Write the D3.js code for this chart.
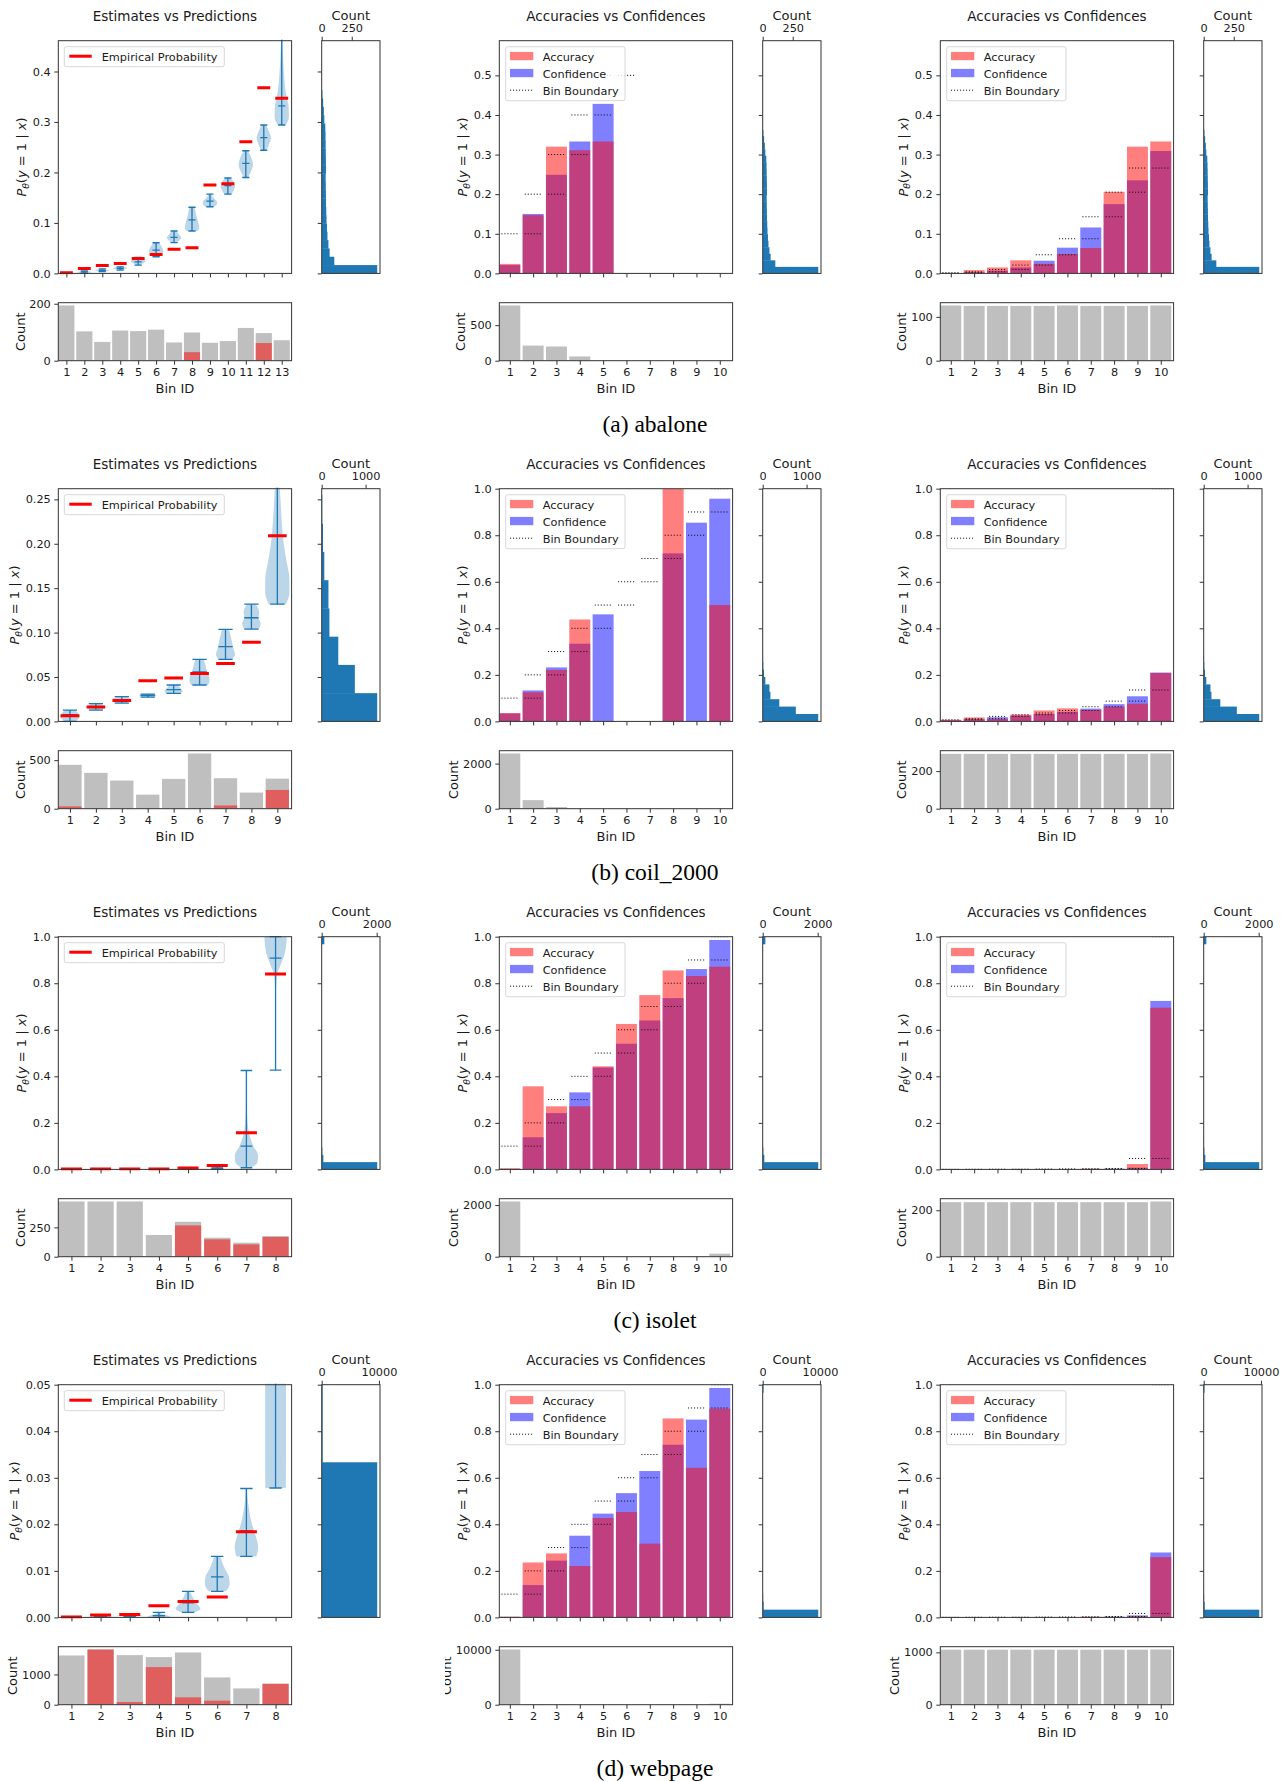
<!DOCTYPE html>
<html>
<head>
<meta charset="utf-8">
<script src="https://cdn.jsdelivr.net/npm/d3@7"></script>
<style>
  html, body { margin: 0; padding: 0; background: #ffffff; }
  svg { display: block; }
</style>
</head>
<body>
<svg id="fig" width="1284" height="1782"></svg>
<script>
// ---------------------------------------------------------------
// Data
// ---------------------------------------------------------------
const captions = ["(a) abalone", "(b) coil_2000", "(c) isolet", "(d) webpage"];
const uniformEdges = [0, 0.1, 0.2, 0.3, 0.4, 0.5, 0.6, 0.7, 0.8, 0.9, 1.0];
const calibrationBins = [1, 2, 3, 4, 5, 6, 7, 8, 9, 10];

// ---- abalone ----
const abaloneEmpirical = [0.0013, 0.0099, 0.0158, 0.0198, 0.0297, 0.0376, 0.048, 0.0508, 0.175, 0.1776, 0.261, 0.368, 0.347];
const abaloneViolinMin = [0, 0.0005, 0.0035, 0.0066, 0.0165, 0.033, 0.061, 0.084, 0.132, 0.157, 0.190, 0.244, 0.294];
const abaloneViolinMax = [0.001, 0.005, 0.009, 0.013, 0.0317, 0.0607, 0.084, 0.131, 0.157, 0.189, 0.243, 0.294, 0.55];
const abaloneViolinMedian = [0.0005, 0.003, 0.006, 0.010, 0.023, 0.046, 0.0713, 0.106, 0.143, 0.174, 0.218, 0.269, 0.332];
const abaloneViolinDensity = [
  [[0, 0.3], [0.0005, 1], [0.001, 0.3]],
  [[0.0005, 0.3], [0.002, 0.8], [0.003, 1], [0.004, 0.7], [0.005, 0.3]],
  [[0.0035, 0.3], [0.005, 0.8], [0.006, 1], [0.0075, 0.6], [0.009, 0.3]],
  [[0.0066, 0.4], [0.009, 0.8], [0.010, 1], [0.0115, 0.8], [0.013, 0.4]],
  [[0.0165, 0.3], [0.021, 0.8], [0.024, 1], [0.028, 0.7], [0.0317, 0.4]],
  [[0.033, 0.5], [0.039, 0.85], [0.045, 1], [0.052, 0.8], [0.0607, 0.4]],
  [[0.061, 0.4], [0.066, 0.8], [0.071, 1], [0.077, 0.7], [0.084, 0.35]],
  [[0.084, 0.8], [0.092, 1], [0.102, 0.85], [0.112, 0.65], [0.122, 0.5], [0.131, 0.35]],
  [[0.132, 0.6], [0.137, 0.95], [0.142, 1], [0.148, 0.6], [0.153, 0.35], [0.157, 0.25]],
  [[0.157, 0.5], [0.165, 0.85], [0.173, 1], [0.18, 0.85], [0.189, 0.4]],
  [[0.190, 0.3], [0.203, 0.75], [0.215, 1], [0.228, 0.8], [0.243, 0.3]],
  [[0.244, 0.35], [0.256, 0.75], [0.268, 1], [0.28, 0.75], [0.294, 0.3]],
  [[0.294, 0.55], [0.31, 1], [0.33, 0.95], [0.36, 0.55], [0.40, 0.3], [0.44, 0.15], [0.5, 0.06], [0.55, 0.02]]
];
const abaloneBinCounts = [194, 103, 66, 106, 104, 109, 64, 99, 63, 69, 115, 97, 72];
const abalonePositiveCounts = [0, 0, 0, 0, 0, 0, 0, 30, 0, 0, 0, 62, 0];
const abaloneEstimateMax = 0.461;
const abaloneEstimateTicks = [0, 0.1, 0.2, 0.3, 0.4];
const abaloneEstimateFormat = ".1f";
const abaloneCalibrationMax = 0.5875;
const abaloneCalibrationTicks = [0, 0.1, 0.2, 0.3, 0.4, 0.5];
const abaloneUniformAccuracy = [0.024, 0.147, 0.320, 0.311, 0.333, 0, 0, 0, 0, 0];
const abaloneUniformConfidence = [0.021, 0.150, 0.249, 0.333, 0.428, 0, 0, 0, 0, 0];
const abaloneUniformCounts = [777, 213, 200, 60, 3, 0, 0, 0, 0, 0];
const abaloneQuantileEdges = [0, 0.0017, 0.004, 0.010, 0.021, 0.047, 0.0875, 0.143, 0.205, 0.266, 1.0];
const abaloneQuantileAccuracy = [0, 0.0084, 0.015, 0.033, 0.024, 0.049, 0.064, 0.206, 0.320, 0.333];
const abaloneQuantileConfidence = [0.001, 0.003, 0.007, 0.015, 0.032, 0.065, 0.116, 0.175, 0.235, 0.309];
const abaloneQuantileCounts = [126, 125, 125, 125, 125, 126, 125, 125, 125, 126];
const abaloneHistBinWidth = 0.0165;
const abaloneHistCounts = [462, 105, 66, 56, 48, 44, 40, 38, 36, 35, 34, 33, 36, 35, 34, 33, 32, 30, 22, 18, 12, 6];
const abaloneHistTicks = [0, 250];
const abaloneCountTicks = [[0, 200], [0, 500], [0, 100]];

// ---- coil_2000 ----
const coilEmpirical = [0.0064, 0.0161, 0.0236, 0.0458, 0.0488, 0.054, 0.0653, 0.089, 0.209];
const coilViolinMin = [0, 0.0128, 0.0206, 0.0274, 0.0315, 0.041, 0.0698, 0.104, 0.132];
const coilViolinMax = [0.0128, 0.020, 0.0278, 0.0308, 0.041, 0.0698, 0.1036, 0.132, 0.35];
const coilViolinMedian = [0.0075, 0.0165, 0.024, 0.0293, 0.0357, 0.0556, 0.0841, 0.1167, 0.209];
const coilViolinDensity = [
  [[0, 0.3], [0.003, 0.6], [0.006, 0.7], [0.009, 0.6], [0.0128, 0.3]],
  [[0.0128, 0.35], [0.015, 0.6], [0.0165, 0.63], [0.018, 0.55], [0.020, 0.3]],
  [[0.0206, 0.35], [0.023, 0.6], [0.025, 0.63], [0.0265, 0.5], [0.0278, 0.3]],
  [[0.0274, 0.4], [0.029, 0.6], [0.0308, 0.4]],
  [[0.0315, 0.5], [0.034, 0.64], [0.037, 0.5], [0.041, 0.3]],
  [[0.041, 0.6], [0.046, 0.7], [0.052, 0.65], [0.058, 0.5], [0.064, 0.4], [0.0698, 0.3]],
  [[0.0698, 0.45], [0.075, 0.67], [0.082, 0.55], [0.09, 0.45], [0.097, 0.35], [0.1036, 0.25]],
  [[0.104, 0.5], [0.11, 0.65], [0.117, 0.5], [0.123, 0.55], [0.128, 0.45], [0.132, 0.3]],
  [[0.132, 0.6], [0.145, 0.85], [0.16, 0.85], [0.18, 0.65], [0.2, 0.45], [0.22, 0.33], [0.25, 0.22], [0.28, 0.12], [0.32, 0.05], [0.35, 0.02]]
];
const coilBinCounts = [452, 369, 290, 145, 307, 569, 314, 166, 310];
const coilPositiveCounts = [24, 0, 0, 0, 0, 0, 34, 0, 193];
const coilEstimateMax = 0.262;
const coilEstimateTicks = [0, 0.05, 0.10, 0.15, 0.20, 0.25];
const coilEstimateFormat = ".2f";
const coilCalibrationMax = 1.0;
const coilCalibrationTicks = [0, 0.2, 0.4, 0.6, 0.8, 1.0];
const coilUniformAccuracy = [0.036, 0.125, 0.221, 0.438, 0, 0, 0, 1.0, 0, 0.5];
const coilUniformConfidence = [0.034, 0.133, 0.232, 0.334, 0.46, 0, 0, 0.722, 0.854, 0.957];
const coilUniformCounts = [2450, 380, 75, 10, 3, 0, 0, 1, 1, 2];
const coilQuantileEdges = [0, 0.007, 0.0115, 0.0215, 0.0287, 0.036, 0.047, 0.063, 0.087, 0.135, 1.0];
const coilQuantileAccuracy = [0.007, 0.017, 0.010, 0.029, 0.047, 0.056, 0.049, 0.063, 0.076, 0.208];
const coilQuantileConfidence = [0.005, 0.0095, 0.018, 0.025, 0.032, 0.041, 0.055, 0.074, 0.108, 0.21];
const coilQuantileCounts = [292, 292, 292, 292, 292, 292, 292, 292, 292, 294];
const coilHistBinWidth = 0.0318;
const coilHistCounts = [1265, 755, 378, 176, 154, 60, 30, 14, 8, 5];
const coilHistTicks = [0, 1000];
const coilCountTicks = [[0, 500], [0, 2000], [0, 200]];

// ---- isolet ----
const isoletEmpirical = [0.002, 0.002, 0.002, 0.002, 0.006, 0.017, 0.158, 0.84];
const isoletViolinMin = [0, 0, 0, 0, 0, 0.001, 0.007, 0.427];
const isoletViolinMax = [0.0005, 0.0008, 0.001, 0.0015, 0.003, 0.011, 0.425, 1.0];
const isoletViolinMedian = [0.0002, 0.0004, 0.0005, 0.0008, 0.0015, 0.005, 0.1, 0.908];
const isoletViolinDensity = [
  [[0, 0.5], [0.00025, 1], [0.0005, 0.5]],
  [[0, 0.5], [0.0004, 1], [0.0008, 0.5]],
  [[0, 0.5], [0.0005, 1], [0.001, 0.5]],
  [[0, 0.5], [0.0008, 1], [0.0015, 0.5]],
  [[0, 0.5], [0.0015, 1], [0.003, 0.5]],
  [[0.001, 0.4], [0.004, 0.6], [0.008, 0.4], [0.011, 0.2]],
  [[0.007, 0.35], [0.03, 0.95], [0.06, 1], [0.1, 0.6], [0.15, 0.25], [0.2, 0.1], [0.3, 0.03], [0.425, 0.01]],
  [[0.427, 0.01], [0.6, 0.01], [0.75, 0.03], [0.83, 0.1], [0.88, 0.45], [0.93, 0.8], [0.97, 0.92], [1.0, 0.95]]
];
const isoletBinCounts = [471, 471, 471, 185, 298, 162, 119, 176];
const isoletPositiveCounts = [0, 0, 0, 0, 267, 148, 105, 168];
const isoletEstimateMax = 1.0;
const isoletEstimateTicks = [0, 0.2, 0.4, 0.6, 0.8, 1.0];
const isoletEstimateFormat = ".1f";
const isoletCalibrationMax = 1.0;
const isoletCalibrationTicks = [0, 0.2, 0.4, 0.6, 0.8, 1.0];
const isoletUniformAccuracy = [0.005, 0.357, 0.271, 0.271, 0.443, 0.625, 0.749, 0.855, 0.831, 0.871];
const isoletUniformConfidence = [0.001, 0.138, 0.242, 0.331, 0.438, 0.540, 0.640, 0.736, 0.861, 0.986];
const isoletUniformCounts = [2140, 15, 12, 10, 8, 10, 12, 10, 20, 116];
const isoletQuantileEdges = [0, 0.0001, 0.0002, 0.0003, 0.0005, 0.0008, 0.0012, 0.002, 0.004, 0.047, 1.0];
const isoletQuantileAccuracy = [0, 0, 0, 0, 0, 0, 0.003, 0, 0.023, 0.695];
const isoletQuantileConfidence = [0.00005, 0.00015, 0.00025, 0.0004, 0.0006, 0.001, 0.0016, 0.003, 0.007, 0.724];
const isoletQuantileCounts = [235, 235, 235, 235, 235, 235, 235, 235, 235, 238];
const isoletHistBinWidth = 0.03125;
const isoletHistCounts = [2020, 60, 25, 10, 8, 5, 5, 4, 4, 4, 3, 3, 3, 3, 3, 3, 3, 3, 3, 3, 3, 3, 3, 3, 4, 4, 5, 5, 6, 8, 12, 97];
const isoletHistTicks = [0, 2000];
const isoletCountTicks = [[0, 250], [0, 2000], [0, 200]];

// ---- webpage ----
const webpageEmpirical = [0.0001, 0.0005, 0.0006, 0.0025, 0.0034, 0.0044, 0.0184, 0.3];
const webpageViolinMin = [0, 0.0001, 0.0002, 0, 0.0011, 0.0056, 0.0131, 0.0278];
const webpageViolinMax = [0.0001, 0.0003, 0.0005, 0.0011, 0.0056, 0.0131, 0.0277, 1.0];
const webpageViolinMedian = [0.00005, 0.0002, 0.00035, 0.0004, 0.0031, 0.0087, 0.0186, 0.3];
const webpageViolinDensity = [
  [[0, 0.5], [0.00005, 1], [0.0001, 0.5]],
  [[0.0001, 0.5], [0.0002, 1], [0.0003, 0.5]],
  [[0.0002, 0.5], [0.00035, 1], [0.0005, 0.5]],
  [[0, 1], [0.0003, 0.8], [0.0006, 0.4], [0.0009, 0.15], [0.0011, 0.05]],
  [[0.0011, 0.5], [0.0018, 1], [0.0025, 0.85], [0.0032, 0.6], [0.0042, 0.4], [0.005, 0.25], [0.0056, 0.15]],
  [[0.0056, 0.7], [0.0072, 1], [0.0087, 0.95], [0.010, 0.7], [0.0115, 0.45], [0.0131, 0.25]],
  [[0.0131, 0.8], [0.015, 0.95], [0.0175, 0.75], [0.020, 0.45], [0.0225, 0.25], [0.025, 0.12], [0.0277, 0.05]],
  [[0.0278, 0.83], [0.035, 0.84], [0.045, 0.84], [0.05, 0.84], [0.1, 0.6], [0.3, 0.3], [0.6, 0.2], [1.0, 0.1]]
];
const webpageBinCounts = [1626, 1824, 1637, 1571, 1725, 901, 538, 692];
const webpagePositiveCounts = [0, 1824, 88, 1242, 242, 132, 0, 692];
const webpageEstimateMax = 0.05;
const webpageEstimateTicks = [0, 0.01, 0.02, 0.03, 0.04, 0.05];
const webpageEstimateFormat = ".2f";
const webpageCalibrationMax = 1.0;
const webpageCalibrationTicks = [0, 0.2, 0.4, 0.6, 0.8, 1.0];
const webpageUniformAccuracy = [0.003, 0.236, 0.275, 0.221, 0.427, 0.453, 0.317, 0.855, 0.643, 0.897];
const webpageUniformConfidence = [0.002, 0.139, 0.244, 0.351, 0.446, 0.534, 0.629, 0.742, 0.85, 0.986];
const webpageUniformCounts = [10050, 90, 45, 30, 25, 22, 20, 25, 30, 177];
const webpageQuantileEdges = [0, 0.0001, 0.0002, 0.0003, 0.0004, 0.0006, 0.001, 0.002, 0.004, 0.017, 1.0];
const webpageQuantileAccuracy = [0, 0, 0, 0, 0, 0.0005, 0.003, 0.002, 0.004, 0.259];
const webpageQuantileConfidence = [0.00005, 0.00015, 0.00025, 0.00035, 0.0005, 0.0008, 0.0015, 0.003, 0.0086, 0.279];
const webpageQuantileCounts = [1051, 1051, 1051, 1051, 1051, 1051, 1051, 1051, 1051, 1055];
const webpageHistBinWidth = 1 / 30;
const webpageHistCounts = [9700, 180, 80, 40, 30, 25, 20, 15, 10, 12, 12, 10, 12, 10, 10, 10, 10, 8, 8, 8, 8, 8, 8, 8, 8, 8, 10, 15, 40, 150];
const webpageHistTicks = [0, 10000];
const webpageCountTicks = [[0, 1000], [0, 10000], [0, 1000]];

// Table assembled from the arrays above
const datasets = [
  { empirical: abaloneEmpirical, vMin: abaloneViolinMin, vMax: abaloneViolinMax, vMed: abaloneViolinMedian, density: abaloneViolinDensity,
    binCounts: abaloneBinCounts, positives: abalonePositiveCounts, estMax: abaloneEstimateMax, estTicks: abaloneEstimateTicks, estFmt: abaloneEstimateFormat,
    calMax: abaloneCalibrationMax, calTicks: abaloneCalibrationTicks,
    uAcc: abaloneUniformAccuracy, uConf: abaloneUniformConfidence, uCounts: abaloneUniformCounts,
    qEdges: abaloneQuantileEdges, qAcc: abaloneQuantileAccuracy, qConf: abaloneQuantileConfidence, qCounts: abaloneQuantileCounts,
    histW: abaloneHistBinWidth, hist: abaloneHistCounts, histTicks: abaloneHistTicks, countTicks: abaloneCountTicks },
  { empirical: coilEmpirical, vMin: coilViolinMin, vMax: coilViolinMax, vMed: coilViolinMedian, density: coilViolinDensity,
    binCounts: coilBinCounts, positives: coilPositiveCounts, estMax: coilEstimateMax, estTicks: coilEstimateTicks, estFmt: coilEstimateFormat,
    calMax: coilCalibrationMax, calTicks: coilCalibrationTicks,
    uAcc: coilUniformAccuracy, uConf: coilUniformConfidence, uCounts: coilUniformCounts,
    qEdges: coilQuantileEdges, qAcc: coilQuantileAccuracy, qConf: coilQuantileConfidence, qCounts: coilQuantileCounts,
    histW: coilHistBinWidth, hist: coilHistCounts, histTicks: coilHistTicks, countTicks: coilCountTicks },
  { empirical: isoletEmpirical, vMin: isoletViolinMin, vMax: isoletViolinMax, vMed: isoletViolinMedian, density: isoletViolinDensity,
    binCounts: isoletBinCounts, positives: isoletPositiveCounts, estMax: isoletEstimateMax, estTicks: isoletEstimateTicks, estFmt: isoletEstimateFormat,
    calMax: isoletCalibrationMax, calTicks: isoletCalibrationTicks,
    uAcc: isoletUniformAccuracy, uConf: isoletUniformConfidence, uCounts: isoletUniformCounts,
    qEdges: isoletQuantileEdges, qAcc: isoletQuantileAccuracy, qConf: isoletQuantileConfidence, qCounts: isoletQuantileCounts,
    histW: isoletHistBinWidth, hist: isoletHistCounts, histTicks: isoletHistTicks, countTicks: isoletCountTicks },
  { empirical: webpageEmpirical, vMin: webpageViolinMin, vMax: webpageViolinMax, vMed: webpageViolinMedian, density: webpageViolinDensity,
    binCounts: webpageBinCounts, positives: webpagePositiveCounts, estMax: webpageEstimateMax, estTicks: webpageEstimateTicks, estFmt: webpageEstimateFormat,
    calMax: webpageCalibrationMax, calTicks: webpageCalibrationTicks,
    uAcc: webpageUniformAccuracy, uConf: webpageUniformConfidence, uCounts: webpageUniformCounts,
    qEdges: webpageQuantileEdges, qAcc: webpageQuantileAccuracy, qConf: webpageQuantileConfidence, qCounts: webpageQuantileCounts,
    histW: webpageHistBinWidth, hist: webpageHistCounts, histTicks: webpageHistTicks, countTicks: webpageCountTicks }
];

// ---------------------------------------------------------------
// Layout and style
// ---------------------------------------------------------------
const FONT = "'DejaVu Sans', 'Noto Sans', sans-serif";
const TEXT = "#1a1a1a";
const SPINE = "#333333";
const TICK_FS = 11.3, LABEL_FS = 13, TITLE_FS = 13.5, LEGEND_FS = 11.3;
const ROW_Y = [0, 448, 896, 1344];
const COL_X = [58.3, 499.3, 940.3];
const MAIN_DY = 40.7, MAIN_W = 233.3, MAIN_H = 232.7;
const SIDE_DX = 263.4, SIDE_W = 58.3;
const CNT_DY = 302.7, CNT_H = 58;
const VIOLIN_W = [0.8, 1.1, 0.8, 0.85];
const P_LABEL_X = [[26, 467.4, 907.8], [19.3, 467.4, 907.8], [26, 467.4, 907.8], [19.3, 467.4, 907.8]];
const COUNT_LABEL_X = [[24.75, 465.25, 906], [24.75, 458, 906], [24.75, 458, 906], [17, 451.4, 898.5]];

const svg = d3.select("#fig");
const defs = svg.append("defs");
let clipSeq = 0;
function clipRect(x, y, w, h) {
  const id = "clip" + (clipSeq++);
  defs.append("clipPath").attr("id", id).append("rect")
    .attr("x", x).attr("y", y).attr("width", w).attr("height", h);
  return `url(#${id})`;
}

function styleAxis(a, keepText) {
  a.select(".domain").remove();
  a.attr("font-family", FONT).attr("font-size", TICK_FS);
  a.selectAll(".tick line").attr("stroke", SPINE).attr("stroke-width", 1);
  if (keepText) a.selectAll(".tick text").attr("fill", TEXT);
  else a.selectAll(".tick text").remove();
}

function frame(g, x, y, w, h) {
  g.append("rect").attr("x", x).attr("y", y).attr("width", w).attr("height", h)
    .attr("fill", "none").attr("stroke", SPINE).attr("stroke-width", 1);
}

function text(g, x, y, str, size, anchor) {
  return g.append("text").attr("x", x).attr("y", y).attr("font-family", FONT)
    .attr("font-size", size).attr("fill", TEXT).attr("text-anchor", anchor || "middle").text(str);
}

function probLabel(g, bx, cy) {
  const t = g.append("text").attr("transform", `translate(${bx},${cy}) rotate(-90)`)
    .attr("text-anchor", "middle").attr("font-family", FONT).attr("font-size", LABEL_FS).attr("fill", TEXT);
  t.append("tspan").attr("font-style", "italic").text("P");
  t.append("tspan").attr("font-style", "italic").attr("font-size", LABEL_FS * 0.7).attr("dy", 2.6).text("θ");
  t.append("tspan").attr("dy", -2.6).text("(");
  t.append("tspan").attr("font-style", "italic").text("y");
  t.append("tspan").text(" = 1 | ");
  t.append("tspan").attr("font-style", "italic").text("x");
  t.append("tspan").text(")");
}

function countLabel(g, bx, cy) {
  g.append("text").attr("transform", `translate(${bx},${cy}) rotate(-90)`)
    .attr("text-anchor", "middle").attr("font-family", FONT).attr("font-size", LABEL_FS)
    .attr("fill", TEXT).text("Count");
}

// ---------------------------------------------------------------
// Panels
// ---------------------------------------------------------------
function estimatesPanel(g, r, d) {
  const x0 = COL_X[0], y0 = ROW_Y[r] + MAIN_DY;
  const n = d.empirical.length;
  const x = d3.scaleLinear().domain([0.55, n + 0.55]).range([x0, x0 + MAIN_W]);
  const y = d3.scaleLinear().domain([0, d.estMax]).range([y0 + MAIN_H, y0]);
  const bin = x(1) - x(0);
  const half = VIOLIN_W[r] / 2 * bin;
  const cap = VIOLIN_W[r] / 4 * bin;
  const body = g.append("g").attr("clip-path", clipRect(x0, y0 - 1, MAIN_W, MAIN_H + 2));

  d.density.forEach((prof, i) => {
    const cx = x(i + 1);
    const pts = prof.slice().sort((a, b) => b[0] - a[0]);
    const area = d3.area().curve(d3.curveMonotoneY)
      .y(p => y(p[0])).x0(p => cx - p[1] * half).x1(p => cx + p[1] * half);
    body.append("path").attr("d", area(pts)).attr("fill", "#1f77b4").attr("fill-opacity", 0.3);
  });

  d.vMin.forEach((lo, i) => {
    const cx = x(i + 1);
    const hi = d.vMax[i], md = d.vMed[i];
    body.append("line").attr("x1", cx).attr("x2", cx).attr("y1", y(lo)).attr("y2", y(hi))
      .attr("stroke", "#1f77b4").attr("stroke-width", 1.3);
    [lo, hi, md].forEach(v => {
      body.append("line").attr("x1", cx - cap).attr("x2", cx + cap).attr("y1", y(v)).attr("y2", y(v))
        .attr("stroke", "#1f77b4").attr("stroke-width", 1.3);
    });
  });

  body.selectAll("line.emp").data(d.empirical).join("line").attr("class", "emp")
    .attr("x1", (v, i) => x(i + 1) - 0.36 * bin).attr("x2", (v, i) => x(i + 1) + 0.36 * bin)
    .attr("y1", v => y(v)).attr("y2", v => y(v))
    .attr("stroke", "#ff0000").attr("stroke-width", 3);

  // legend
  const lg = g.append("g");
  lg.append("rect").attr("x", x0 + 6).attr("y", y0 + 6).attr("width", 160).attr("height", 20)
    .attr("rx", 2).attr("fill", "#ffffff").attr("fill-opacity", 0.8).attr("stroke", "#cccccc").attr("stroke-width", 0.8);
  lg.append("line").attr("x1", x0 + 11).attr("x2", x0 + 33.4).attr("y1", y0 + 15.5).attr("y2", y0 + 15.5)
    .attr("stroke", "#ff0000").attr("stroke-width", 3);
  text(lg, x0 + 43.4, y0 + 19.8, "Empirical Probability", LEGEND_FS, "start");

  const ay = g.append("g").attr("transform", `translate(${x0},0)`)
    .call(d3.axisLeft(y).tickValues(d.estTicks).tickSize(4).tickPadding(3.5).tickFormat(d3.format(d.estFmt)));
  styleAxis(ay, true);
  const ax = g.append("g").attr("transform", `translate(0,${y0 + MAIN_H})`)
    .call(d3.axisBottom(x).tickValues(d3.range(1, n + 1)).tickSize(4));
  styleAxis(ax, false);
  frame(g, x0, y0, MAIN_W, MAIN_H);

  probLabel(g, P_LABEL_X[r][0], y0 + MAIN_H / 2);
  text(g, x0 + MAIN_W / 2, ROW_Y[r] + 20.5, "Estimates vs Predictions", TITLE_FS);
  return d.estMax;
}

function calibrationPanel(g, r, c, edges, acc, conf, yMax, ticks) {
  const x0 = COL_X[c], y0 = ROW_Y[r] + MAIN_DY;
  const n = acc.length;
  const x = d3.scaleLinear().domain([0.55, n + 0.55]).range([x0, x0 + MAIN_W]);
  const y = d3.scaleLinear().domain([0, yMax]).range([y0 + MAIN_H, y0]);
  const bin = x(1) - x(0);
  const body = g.append("g").attr("clip-path", clipRect(x0, y0, MAIN_W, MAIN_H));

  body.selectAll("rect.conf").data(conf).join("rect").attr("class", "conf")
    .attr("x", (v, i) => x(calibrationBins[i] - 0.45)).attr("width", 0.9 * bin)
    .attr("y", v => y(v)).attr("height", v => y(0) - y(v))
    .attr("fill", "#0000ff").attr("fill-opacity", 0.5);
  body.selectAll("rect.acc").data(acc).join("rect").attr("class", "acc")
    .attr("x", (v, i) => x(calibrationBins[i] - 0.45)).attr("width", 0.9 * bin)
    .attr("y", v => y(v)).attr("height", v => y(0) - y(v))
    .attr("fill", "#ff0000").attr("fill-opacity", 0.5);

  // bin boundaries: lower and upper edge of every bin
  const bounds = [];
  for (let i = 0; i < n; i++) {
    bounds.push({ b: calibrationBins[i], v: edges[i] });
    bounds.push({ b: calibrationBins[i], v: edges[i + 1] });
  }
  body.selectAll("line.edge").data(bounds).join("line").attr("class", "edge")
    .attr("x1", e => x(e.b - 0.36)).attr("x2", e => x(e.b + 0.36))
    .attr("y1", e => y(e.v)).attr("y2", e => y(e.v))
    .attr("stroke", "#111111").attr("stroke-width", 1).attr("stroke-dasharray", "1.1 1.9");

  // legend
  const lg = g.append("g");
  lg.append("rect").attr("x", x0 + 6.4).attr("y", y0 + 6).attr("width", 119.3).attr("height", 54)
    .attr("rx", 2).attr("fill", "#ffffff").attr("fill-opacity", 0.8).attr("stroke", "#cccccc").attr("stroke-width", 0.8);
  lg.append("rect").attr("x", x0 + 10.7).attr("y", y0 + 11.2).attr("width", 23.3).attr("height", 8.3)
    .attr("fill", "#ff0000").attr("fill-opacity", 0.5);
  lg.append("rect").attr("x", x0 + 10.7).attr("y", y0 + 28.2).attr("width", 23.3).attr("height", 8.3)
    .attr("fill", "#0000ff").attr("fill-opacity", 0.5);
  lg.append("line").attr("x1", x0 + 10.7).attr("x2", x0 + 34).attr("y1", y0 + 49.5).attr("y2", y0 + 49.5)
    .attr("stroke", "#111111").attr("stroke-width", 1).attr("stroke-dasharray", "1.1 1.9");
  text(lg, x0 + 43.4, y0 + 19.8, "Accuracy", LEGEND_FS, "start");
  text(lg, x0 + 43.4, y0 + 36.8, "Confidence", LEGEND_FS, "start");
  text(lg, x0 + 43.4, y0 + 53.8, "Bin Boundary", LEGEND_FS, "start");

  const ay = g.append("g").attr("transform", `translate(${x0},0)`)
    .call(d3.axisLeft(y).tickValues(ticks).tickSize(4).tickPadding(3.5).tickFormat(d3.format(".1f")));
  styleAxis(ay, true);
  const ax = g.append("g").attr("transform", `translate(0,${y0 + MAIN_H})`)
    .call(d3.axisBottom(x).tickValues(calibrationBins).tickSize(4));
  styleAxis(ax, false);
  frame(g, x0, y0, MAIN_W, MAIN_H);

  probLabel(g, P_LABEL_X[r][c], y0 + MAIN_H / 2);
  text(g, x0 + MAIN_W / 2, ROW_Y[r] + 20.5, "Accuracies vs Confidences", TITLE_FS);
}

function sideHistogram(g, r, c, d, yMax, yTicks) {
  const sx0 = COL_X[c] + SIDE_DX, y0 = ROW_Y[r] + MAIN_DY;
  const xs = d3.scaleLinear().domain([0, d3.max(d.hist) * 1.05]).range([sx0, sx0 + SIDE_W]);
  const y = d3.scaleLinear().domain([0, yMax]).range([y0 + MAIN_H, y0]);
  const body = g.append("g").attr("clip-path", clipRect(sx0, y0, SIDE_W, MAIN_H));
  body.selectAll("rect").data(d.hist).join("rect")
    .attr("x", xs(0)).attr("width", v => xs(v) - xs(0))
    .attr("y", (v, k) => y((k + 1) * d.histW))
    .attr("height", (v, k) => y(k * d.histW) - y((k + 1) * d.histW) + 0.3)
    .attr("fill", "#1f77b4");

  const at = g.append("g").attr("transform", `translate(0,${y0})`)
    .call(d3.axisTop(xs).tickValues(d.histTicks).tickSize(4).tickPadding(5).tickFormat(d3.format("d")));
  styleAxis(at, true);
  const al = g.append("g").attr("transform", `translate(${sx0},0)`)
    .call(d3.axisLeft(y).tickValues(yTicks).tickSize(4));
  styleAxis(al, false);
  frame(g, sx0, y0, SIDE_W, MAIN_H);
  text(g, sx0 + SIDE_W / 2, ROW_Y[r] + 20, "Count", LABEL_FS);
}

function countPanel(g, r, c, counts, positives, ticks) {
  const x0 = COL_X[c], y0 = ROW_Y[r] + CNT_DY;
  const n = counts.length;
  const x = d3.scaleLinear().domain([0.55, n + 0.55]).range([x0, x0 + MAIN_W]);
  const y = d3.scaleLinear().domain([0, d3.max(counts) * 1.05]).range([y0 + CNT_H, y0]);
  const bin = x(1) - x(0);
  const bins = d3.range(1, n + 1);
  const body = g.append("g").attr("clip-path", clipRect(x0, y0, MAIN_W, CNT_H));
  body.selectAll("rect.total").data(counts).join("rect").attr("class", "total")
    .attr("x", (v, i) => x(bins[i] - 0.45)).attr("width", 0.9 * bin)
    .attr("y", v => y(v)).attr("height", v => y(0) - y(v))
    .attr("fill", "#bfbfbf");
  if (positives) {
    body.selectAll("rect.pos").data(positives).join("rect").attr("class", "pos")
      .attr("x", (v, i) => x(bins[i] - 0.45)).attr("width", 0.9 * bin)
      .attr("y", v => y(v)).attr("height", v => y(0) - y(v))
      .attr("fill", "#ff0000").attr("fill-opacity", 0.5);
  }
  const ay = g.append("g").attr("transform", `translate(${x0},0)`)
    .call(d3.axisLeft(y).tickValues(ticks).tickSize(4).tickPadding(3.5).tickFormat(d3.format("d")));
  styleAxis(ay, true);
  const ax = g.append("g").attr("transform", `translate(0,${y0 + CNT_H})`)
    .call(d3.axisBottom(x).tickValues(bins).tickSize(4).tickPadding(3.5).tickFormat(d3.format("d")));
  styleAxis(ax, true);
  frame(g, x0, y0, MAIN_W, CNT_H);

  countLabel(g, COUNT_LABEL_X[r][c], y0 + CNT_H / 2);
  text(g, x0 + MAIN_W / 2, ROW_Y[r] + 393, "Bin ID", LABEL_FS);
}

// ---------------------------------------------------------------
// Figure
// ---------------------------------------------------------------
datasets.forEach((d, r) => {
  const g0 = svg.append("g");
  const g1 = svg.append("g").attr("clip-path", clipRect(445, ROW_Y[r], 415, 448));
  const g2 = svg.append("g");

  const estMax = estimatesPanel(g0, r, d);
  sideHistogram(g0, r, 0, d, estMax, d.estTicks);
  countPanel(g0, r, 0, d.binCounts, d.positives, d.countTicks[0]);

  calibrationPanel(g1, r, 1, uniformEdges, d.uAcc, d.uConf, d.calMax, d.calTicks);
  sideHistogram(g1, r, 1, d, d.calMax, d.calTicks);
  countPanel(g1, r, 1, d.uCounts, null, d.countTicks[1]);

  calibrationPanel(g2, r, 2, d.qEdges, d.qAcc, d.qConf, d.calMax, d.calTicks);
  sideHistogram(g2, r, 2, d, d.calMax, d.calTicks);
  countPanel(g2, r, 2, d.qCounts, null, d.countTicks[2]);

  svg.append("text").attr("x", 655).attr("y", ROW_Y[r] + 431.5)
    .attr("text-anchor", "middle").attr("font-family", "'Liberation Serif', 'DejaVu Serif', serif")
    .attr("font-size", 23.5).attr("fill", "#000000").text(captions[r]);
});
</script>
</body>
</html>
